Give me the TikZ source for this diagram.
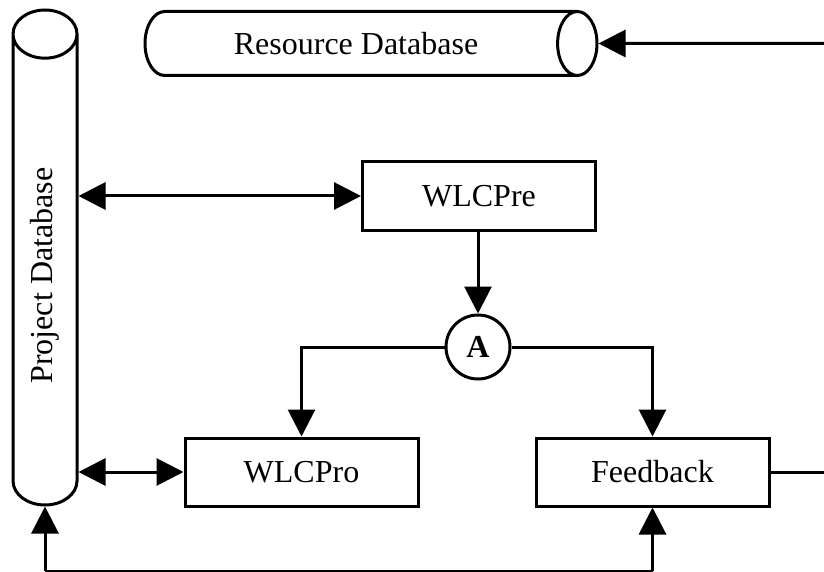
\documentclass[tikz,border=0pt]{standalone}
\usepackage{fontspec}
\setmainfont{Liberation Serif}
\usetikzlibrary{shapes.geometric,arrows.meta}

\begin{document}
\begin{tikzpicture}[x=1pt, y=-1pt, line width=3pt,
  every node/.style={font=\fontsize{32}{38}\selectfont},
  box/.style={draw, rectangle, minimum width=233pt, minimum height=68pt},
  db/.style={draw, cylinder, aspect=1.35, minimum width=64pt},
  arr/.style={-{Triangle[length=27pt, width=27pt]}},
  dbl/.style={{Triangle[length=27pt, width=27pt]}-{Triangle[length=27pt, width=27pt]}}]
\useasboundingbox (0,0) rectangle (824,572);

% Databases
\node[db, minimum height=495pt, rotate=90, anchor=west] (pdb) at (45,506.5) {Project Database};
\node[db, minimum height=452pt, anchor=west] (rdb) at (143.5,43.5) {Resource Database};

% Steps
\node[box] (pre) at (479,196) {WLCPre};
\node[draw, circle, minimum size=64pt, inner sep=0pt, font=\fontsize{32}{38}\selectfont\bfseries] (a) at (478,347) {A};
\node[box] (pro) at (301.5,472) {WLCPro};
\node[box] (fb) at (652.5,472) {Feedback};

% Loose ends at the frame
\coordinate (fbout) at (824,472);
\coordinate (rdbin) at (824,43.5);
\coordinate (pdbin) at (45,571);
\coordinate (fbin) at (652.5,571);

% Arrows
\draw[dbl] (pdb.south |- pre.west) -- (pre.west);
\draw[dbl] (pdb.south |- pro.west) -- (pro.west);
\draw[arr] (pre.south -| a.north) -- (a.north);
\draw[arr] (a.west) -| (pro.north);
\draw[arr] (a.east) -| (fb.north);
\draw (fb.east) -- (fbout);
\draw[arr] (rdbin) -- (rdb.east);
\draw[arr] (fbin) -- (fb.south);
\draw[arr] (pdbin) -- (pdb.west);
\draw (pdbin) -- (fbin);
\end{tikzpicture}
\end{document}
